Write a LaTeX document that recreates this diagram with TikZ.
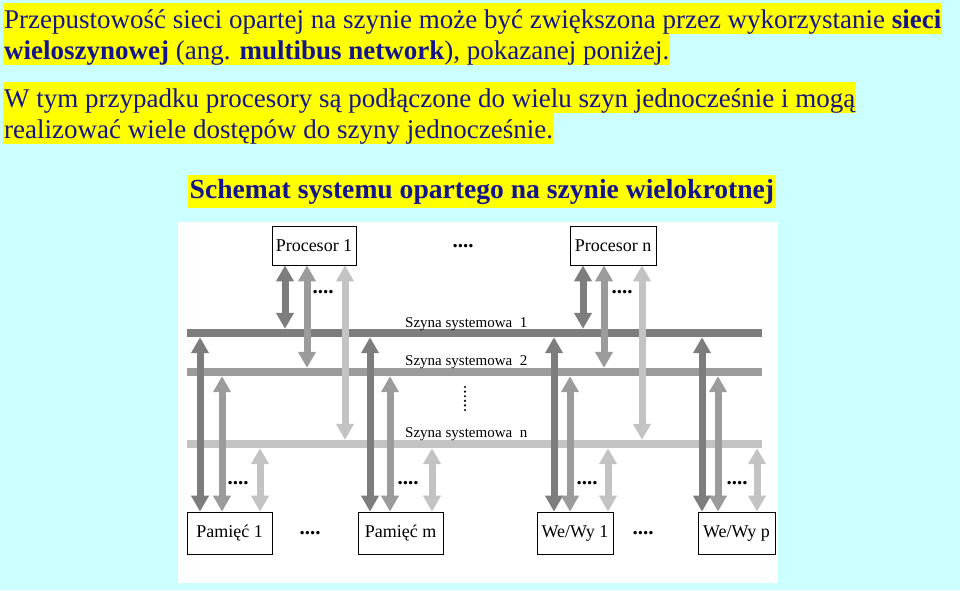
\documentclass[tikz,border=0pt]{standalone}
\usepackage{fontspec}
\setmainfont{Liberation Serif}
\usetikzlibrary{arrows.meta}
\definecolor{bgcyan}{RGB}{204,255,255}
\definecolor{hl}{RGB}{255,255,0}
\definecolor{txtblue}{RGB}{20,20,140}
\definecolor{gdark}{RGB}{125,125,125}
\definecolor{gmid}{RGB}{155,155,155}
\definecolor{glight}{RGB}{195,195,195}
\begin{document}
\begin{tikzpicture}[x=1pt,y=-1pt,
  hline/.style={fill=hl, text=txtblue, inner xsep=1pt, inner ysep=0pt,
    text height=25pt, text depth=6pt, anchor=base west,
    font=\fontsize{27}{32}\selectfont},
  titlenode/.style={fill=hl, text=txtblue, inner xsep=1.5pt, inner ysep=0pt,
    text height=23pt, text depth=10pt, anchor=base west,
    font=\fontsize{27.6}{32}\selectfont\bfseries},
  box/.style={draw=black, line width=0.8pt, fill=white, inner sep=0pt,
    font=\fontsize{18}{21}\selectfont},
  bus/.style={inner sep=0pt, minimum height=8pt, minimum width=575pt},
  conn/.style={line width=7pt,
    arrows={Triangle[width=17pt,length=16pt]-Triangle[width=17pt,length=16pt]}},
  dotstxt/.style={inner sep=0pt, anchor=base, font=\fontsize{21}{24}\selectfont\bfseries},
  buslabel/.style={inner sep=0pt, anchor=base west, font=\fontsize{15}{18}\selectfont}
]
\useasboundingbox (0,0) rectangle (960,590);
\fill[bgcyan] (0,0) rectangle (960,590);
\fill[white] (178,222) rectangle (778,583);

% text
\node[hline] (t1) at (3,28) {Przepustowość sieci opartej na szynie może być zwiększona przez wykorzystanie \textbf{sieci}};
\node[hline] (t2) at (3,59) {\textbf{wieloszynowej} (ang. \textbf{multibus network}), pokazanej poniżej.};
\node[hline] (t3) at (3,107) {W tym przypadku procesory są podłączone do wielu szyn jednocześnie i mogą};
\node[hline] (t4) at (3,138) {realizować wiele dostępów do szyny jednocześnie.};
\node[titlenode] (title) at (188,198) {Schemat systemu opartego na szynie wielokrotnej};

% buses
\node[bus, fill=gdark] (b1) at (474.5,333) {};
\node[bus, fill=gmid] (b2) at (474.5,372) {};
\node[bus, fill=glight] (bn) at (474.5,444) {};
\node[buslabel] (l1) at (405,327) {Szyna systemowa\ \ 1};
\node[buslabel] (l2) at (405,365) {Szyna systemowa\ \ 2};
\node[buslabel] (ln) at (405,437) {Szyna systemowa\ \ n};
\foreach \i in {0,...,5} \fill (465,387+\i*4.6) circle (1.2pt);

% boxes
\node[box, minimum width=84pt, minimum height=39pt] (p1) at (314,245.5) {Procesor 1};
\node[box, minimum width=86pt, minimum height=39pt] (pn) at (613,245.5) {Procesor n};
\node[box, minimum width=85pt, minimum height=42pt] (m1) at (229.5,533) {Pamięć 1};
\node[box, minimum width=85pt, minimum height=42pt] (mm) at (400.5,533) {Pamięć m};
\node[box, minimum width=76pt, minimum height=42pt] (io1) at (575,533) {We/Wy 1};
\node[box, minimum width=77pt, minimum height=42pt] (iop) at (736.5,533) {We/Wy p};

% x positions
\foreach \n/\x in {a1/285,a2/307,a3/345,c1/583,c2/604,c3/642,
                   e1/200,e2/222,e3/260,f1/370,f2/390,f3/432,
                   g1/554,g2/570,g3/608,h1/702,h2/718,h3/757}
  \coordinate (\n) at (\x,0);

% processor connectors
\draw[conn, gdark] (a1 |- p1.south) -- (a1 |- b1.north);
\draw[conn, gmid] (a2 |- p1.south) -- (a2 |- b2.north);
\draw[conn, glight] (a3 |- p1.south) -- (a3 |- bn.north);
\draw[conn, gdark] (c1 |- pn.south) -- (c1 |- b1.north);
\draw[conn, gmid] (c2 |- pn.south) -- (c2 |- b2.north);
\draw[conn, glight] (c3 |- pn.south) -- (c3 |- bn.north);

% memory / io connectors
\draw[conn, gdark] (e1 |- b1.south) -- (e1 |- m1.north);
\draw[conn, gmid] (e2 |- b2.south) -- (e2 |- m1.north);
\draw[conn, glight] (e3 |- bn.south) -- (e3 |- m1.north);
\draw[conn, gdark] (f1 |- b1.south) -- (f1 |- mm.north);
\draw[conn, gmid] (f2 |- b2.south) -- (f2 |- mm.north);
\draw[conn, glight] (f3 |- bn.south) -- (f3 |- mm.north);
\draw[conn, gdark] (g1 |- b1.south) -- (g1 |- io1.north);
\draw[conn, gmid] (g2 |- b2.south) -- (g2 |- io1.north);
\draw[conn, glight] (g3 |- bn.south) -- (g3 |- io1.north);
\draw[conn, gdark] (h1 |- b1.south) -- (h1 |- iop.north);
\draw[conn, gmid] (h2 |- b2.south) -- (h2 |- iop.north);
\draw[conn, glight] (h3 |- bn.south) -- (h3 |- iop.north);

% dots
\node[dotstxt] (d1) at (463,247) {....};
\node[dotstxt] (d2) at (323,293) {....};
\node[dotstxt] (d3) at (622,293) {....};
\node[dotstxt] (d4) at (238,484) {....};
\node[dotstxt] (d5) at (408,484) {....};
\node[dotstxt] (d6) at (587,484) {....};
\node[dotstxt] (d7) at (737,484) {....};
\node[dotstxt] (d8) at (310,534) {....};
\node[dotstxt] (d9) at (643,534) {....};
\end{tikzpicture}
\end{document}
